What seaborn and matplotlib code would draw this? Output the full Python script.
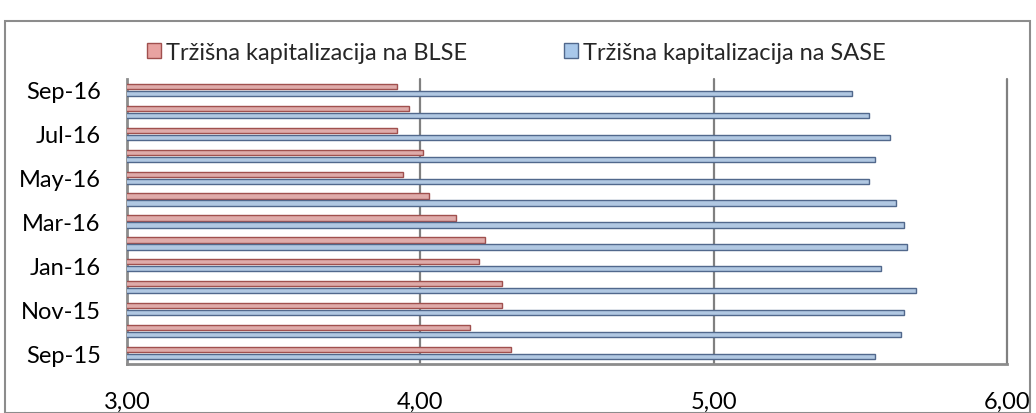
import matplotlib
matplotlib.use("Agg")
import matplotlib.pyplot as plt
import seaborn as sns
import pandas as pd
from matplotlib.patches import Rectangle
from matplotlib.ticker import FuncFormatter

months = ["Sep-16", "Aug-16", "Jul-16", "Jun-16", "May-16", "Apr-16", "Mar-16",
          "Feb-16", "Jan-16", "Dec-15", "Nov-15", "Oct-15", "Sep-15"]
blse = [3.92, 3.96, 3.92, 4.01, 3.94, 4.03, 4.12, 4.22, 4.20, 4.28, 4.28, 4.17, 4.31]
sase = [5.47, 5.53, 5.60, 5.55, 5.53, 5.62, 5.65, 5.66, 5.57, 5.69, 5.65, 5.64, 5.55]
series = ["Tržišna kapitalizacija na BLSE", "Tržišna kapitalizacija na SASE"]

df = pd.DataFrame({
    "month": months * 2,
    "value": blse + sase,
    "series": [series[0]] * len(months) + [series[1]] * len(months),
})

sns.set_theme(style="white")
plt.rcParams["font.family"] = ["Lato", "DejaVu Sans"]

fig = plt.figure(figsize=(10.36, 4.14), dpi=100)
ax = fig.add_axes([127 / 1036, 1 - 365 / 414, (1007 - 127) / 1036, (365 - 80) / 414])

face = {series[0]: "#E8A3A1", series[1]: "#A9C8EA"}
edge = {series[0]: "#A0504E", series[1]: "#51688C"}

sns.barplot(data=df, y="month", x="value", hue="series", order=months,
            hue_order=series, palette=face, orient="h", width=0.64, gap=0.25,
            ax=ax, legend=False, zorder=3)

for cont, s in zip(ax.containers, series):
    for bar in cont:
        bar.set_edgecolor(edge[s])
        bar.set_linewidth(1.0)

ax.set_xlim(3, 6)
ax.set_xticks([3, 4, 5, 6])
ax.xaxis.set_major_formatter(FuncFormatter(lambda v, p: f"{v:.2f}".replace(".", ",")))
ax.set_yticks(range(0, len(months), 2))
ax.set_yticklabels(months[::2])
ax.tick_params(axis="both", length=0, labelsize=17, colors="black")
ax.tick_params(axis="y", pad=19)
ax.tick_params(axis="x", pad=19)
ax.set_xlabel("")
ax.set_ylabel("")

ax.grid(False)
for xv in [4, 5, 6]:
    ax.axvline(xv, color="#808080", lw=1.6, zorder=1, clip_on=False)

for side in ["top", "right"]:
    ax.spines[side].set_visible(False)
for side in ["left", "bottom"]:
    ax.spines[side].set_color("#8c8c8c")
    ax.spines[side].set_linewidth(2)

handles = [Rectangle((0, 0), 1, 1, facecolor=face[s], edgecolor=edge[s], lw=1) for s in series]
fig.legend(handles, series, loc="center left", bbox_to_anchor=(126 / 1036, 1 - 53 / 414),
           ncol=2, frameon=False, fontsize=17, handlelength=0.6, handleheight=0.6,
           handletextpad=0.2, columnspacing=4.1)

fig.patches.append(Rectangle((5 / 1036, 0), 1025 / 1036, 1 - 22 / 414, transform=fig.transFigure,
                             fill=False, edgecolor="#8c8c8c", lw=1.5))

fig.savefig("out.png", dpi=100)
